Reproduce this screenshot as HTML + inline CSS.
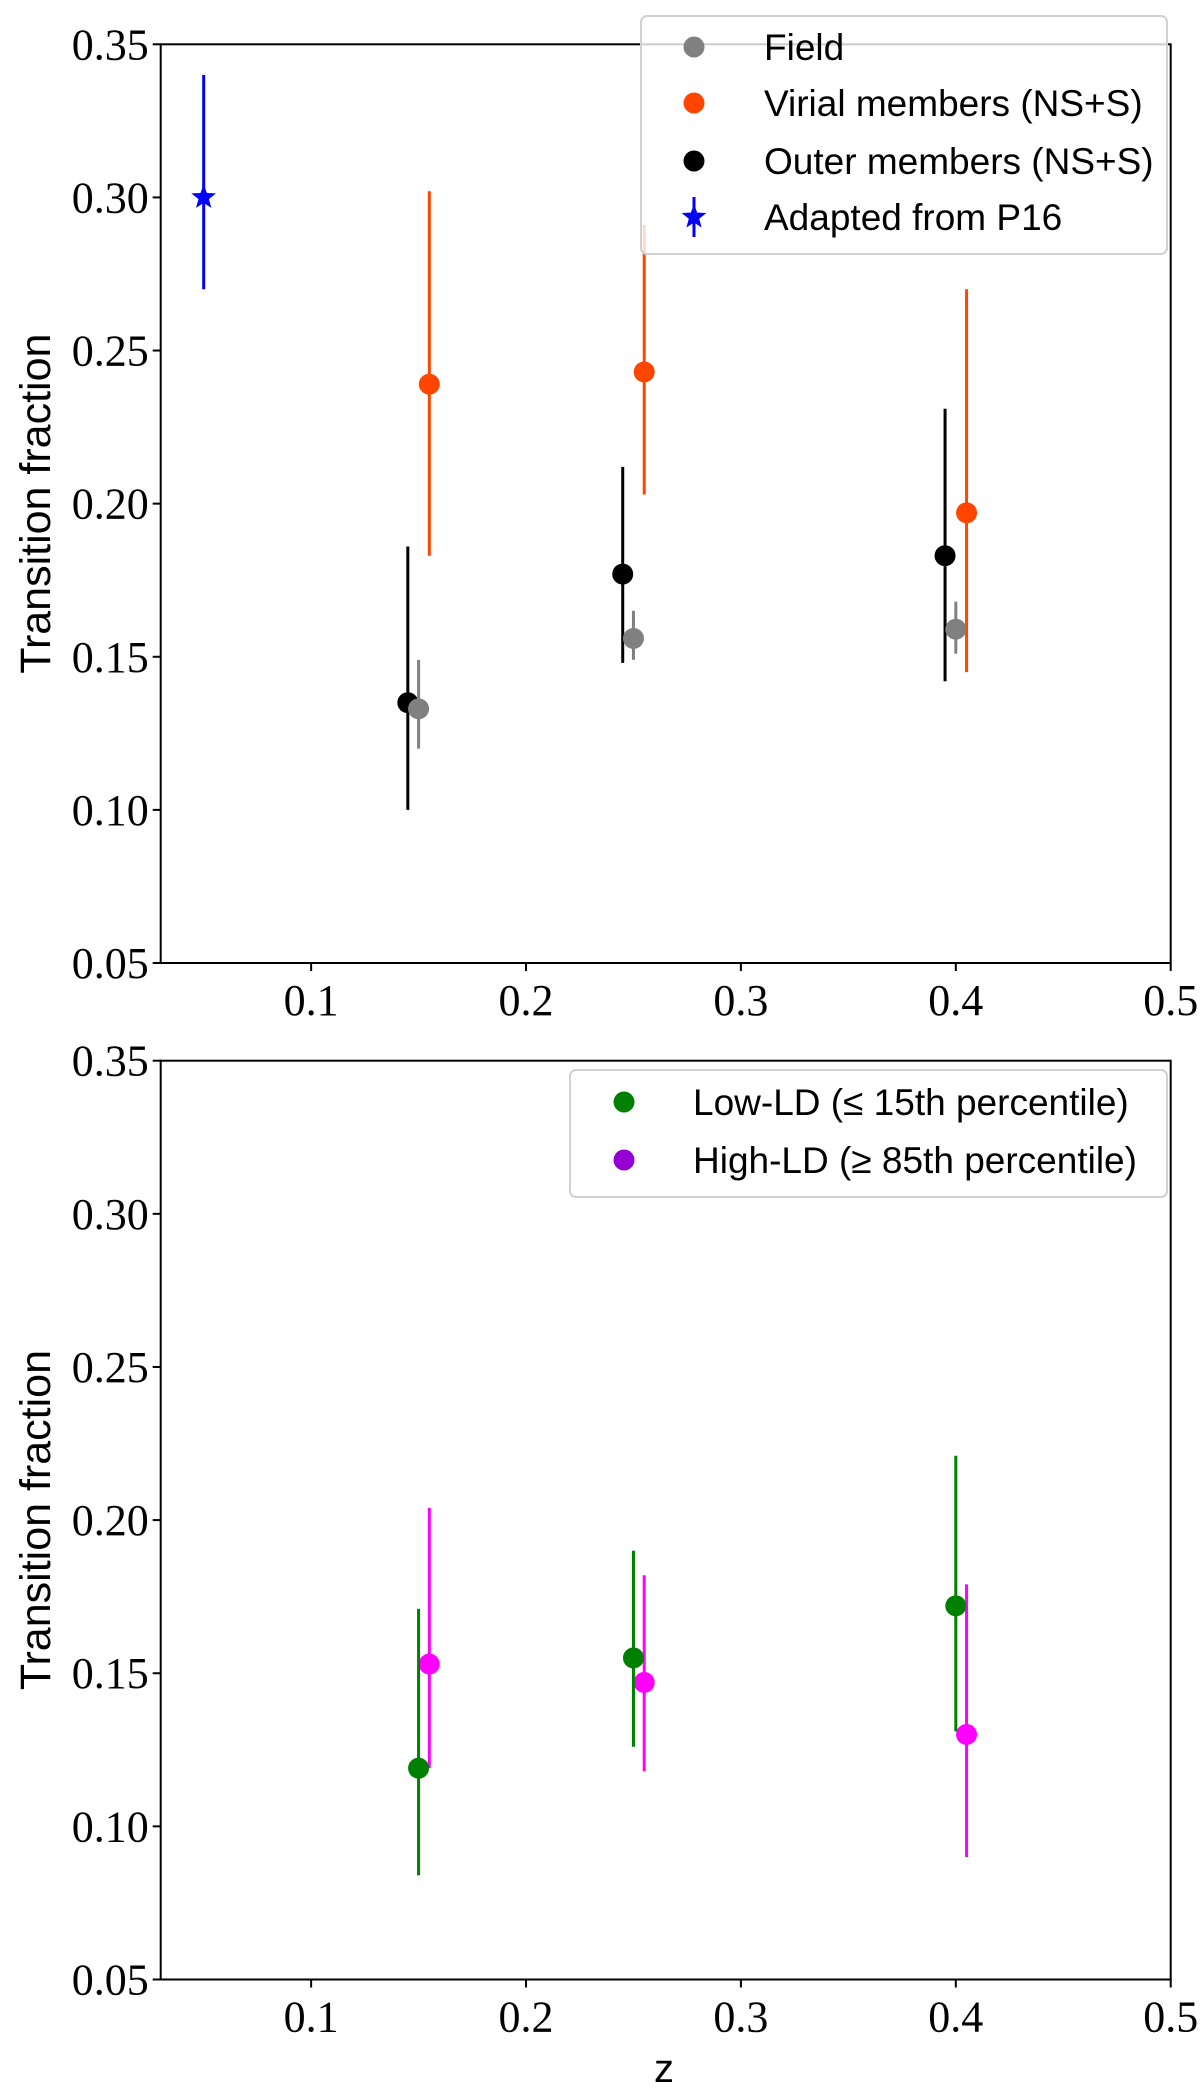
<!DOCTYPE html>
<html><head><meta charset="utf-8"><style>
body{margin:0;background:#fff}
svg text{font-family:"Liberation Serif",serif}
.sans{font-family:"Liberation Sans",sans-serif}
</style></head><body>
<svg id="c" width="1200" height="2093" xmlns="http://www.w3.org/2000/svg"></svg>
<script>
const topZ_field=[0.15,0.25,0.40], topY_field=[0.133,0.156,0.159], topLo_field=[0.120,0.149,0.151], topHi_field=[0.149,0.165,0.168];
const topZ_virial=[0.155,0.255,0.405], topY_virial=[0.239,0.243,0.197], topLo_virial=[0.183,0.203,0.145], topHi_virial=[0.302,0.291,0.270];
const topZ_outer=[0.145,0.245,0.395], topY_outer=[0.135,0.177,0.183], topLo_outer=[0.100,0.148,0.142], topHi_outer=[0.186,0.212,0.231];
const starZ=[0.05], starY=[0.30], starLo=[0.27], starHi=[0.34];
const botZ_low=[0.15,0.25,0.40], botY_low=[0.119,0.155,0.172], botLo_low=[0.084,0.126,0.131], botHi_low=[0.171,0.190,0.221];
const botZ_high=[0.155,0.255,0.405], botY_high=[0.153,0.147,0.130], botLo_high=[0.119,0.118,0.090], botHi_high=[0.204,0.182,0.179];
const xTicks=[0.1,0.2,0.3,0.4,0.5], xTickLabels=["0.1","0.2","0.3","0.4","0.5"];
const yTicks=[0.05,0.10,0.15,0.20,0.25,0.30,0.35], yTickLabels=["0.05","0.10","0.15","0.20","0.25","0.30","0.35"];

const svg=document.getElementById('c'), NS='http://www.w3.org/2000/svg';
function el(t,a,p){const e=document.createElementNS(NS,t);for(const k in a)e.setAttribute(k,a[k]);(p||svg).appendChild(e);return e;}
const L=160.7,R=1170.7,X0=0.03,X1=0.5;
function sx(v){return L+(v-X0)/(X1-X0)*(R-L);}
function panel(top,bot,name){
  const g=el('g',{});
  
  
  const sy=v=>bot-(v-0.05)/0.30*(bot-top);
  const fr=el('rect',{x:L,y:top,width:R-L,height:bot-top,fill:'none',stroke:'#000','stroke-width':2},g);
  
  
  xTicks.forEach((v,i)=>{el('line',{x1:sx(v),x2:sx(v),y1:bot,y2:bot+8,stroke:'#000','stroke-width':2},g);
    const t=el('text',{x:sx(v),y:bot+52,'font-size':44,'text-anchor':'middle'},g);t.textContent=xTickLabels[i];
    
    });
  yTicks.forEach((v,i)=>{el('line',{x1:L-8,x2:L,y1:sy(v),y2:sy(v),stroke:'#000','stroke-width':2},g);
    const t=el('text',{x:L-12,y:sy(v)+15,'font-size':44,'text-anchor':'end'},g);t.textContent=yTickLabels[i];
    
    });
  const yl=el('text',{x:0,y:0,'font-size':43,'text-anchor':'middle',class:'sans',transform:`translate(50,${(top+bot)/2}) rotate(-90)`},g);
  yl.textContent='Transition fraction';
  
  
  return {g,sy};
}
function series(p,Z,Y,Lo,Hi,color,name,star){
  Z.forEach((z,i)=>{
    const ln=el('line',{x1:sx(z),x2:sx(z),y1:p.sy(Lo[i]),y2:p.sy(Hi[i]),stroke:color,'stroke-width':3},p.g);
    
    
    let m;
    if(star){m=starShape(sx(z),p.sy(Y[i]),13,color,p.g);}
    else m=el('circle',{cx:sx(z),cy:p.sy(Y[i]),r:10.5,fill:color},p.g);
    
    
  });
}
function starShape(cx,cy,r,color,parent){
  let pts=[];for(let k=0;k<10;k++){const a=-Math.PI/2+k*Math.PI/5,rr=k%2?r*0.42:r;pts.push((cx+rr*Math.cos(a)).toFixed(1)+','+(cy+rr*Math.sin(a)).toFixed(1));}
  return el('polygon',{points:pts.join(' '),fill:color},parent);
}
const P1=panel(44.3,963,'top-panel');
series(P1,starZ,starY,starLo,starHi,'#0000ff','p16',true);
series(P1,topZ_virial,topY_virial,topLo_virial,topHi_virial,'#ff4500','virial');
series(P1,topZ_outer,topY_outer,topLo_outer,topHi_outer,'#000000','outer');
series(P1,topZ_field,topY_field,topLo_field,topHi_field,'#808080','field');
const P2=panel(1060.7,1979.5,'bottom-panel');
series(P2,botZ_high,botY_high,botLo_high,botHi_high,'#ff00ff','high-ld');
series(P2,botZ_low,botY_low,botLo_low,botHi_low,'#008000','low-ld');
const zl=el('text',{x:664,y:2082,'font-size':40,'text-anchor':'middle',class:'sans'});
zl.textContent='z';



function legend(x,y,w,h,items,mx,tx,name){
  const g=el('g',{});
  
  
  el('rect',{x:x,y:y,width:w,height:h,rx:6,fill:'#fff','fill-opacity':0.8,stroke:'#d0d0d0','stroke-width':2},g);
  items.forEach(it=>{
    let m;
    if(it.star){el('line',{x1:mx,x2:mx,y1:it.y-20,y2:it.y+20,stroke:it.c,'stroke-width':3},g);m=starShape(mx,it.y,13,it.c,g);}
    else m=el('circle',{cx:mx,cy:it.y,r:10.5,fill:it.c},g);
    
    
    const t=el('text',{x:tx,y:it.y+13,'font-size':37,class:'sans'},g);t.textContent=it.t;
    
    
  });
}
legend(641,16,526,238,[{y:47,c:'#808080',t:'Field'},{y:103,c:'#ff4500',t:'Virial members (NS+S)'},{y:161,c:'#000',t:'Outer members (NS+S)'},{y:217,c:'#0000ff',t:'Adapted from P16',star:true}],694,764,'top-legend');
legend(570,1070,597,127,[{y:1102,c:'#008000',t:'Low-LD (\u2264 15th percentile)'},{y:1160,c:'#9400d3',t:'High-LD (\u2265 85th percentile)'}],624,693,'bottom-legend');
</script>
</body></html>
